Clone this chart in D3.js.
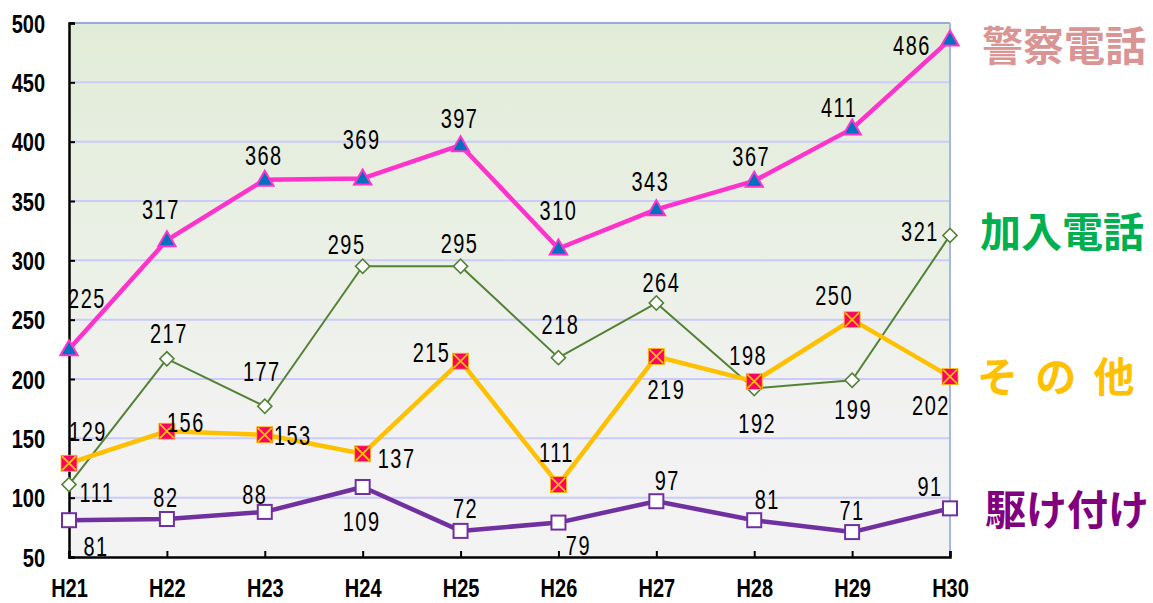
<!DOCTYPE html>
<html>
<head>
<meta charset="utf-8">
<script src="https://cdn.jsdelivr.net/npm/d3@7"></script>
<style>
  body { margin: 0; background: #fff; }
  .num { font-family: "Liberation Sans", Arial, sans-serif; }
  .legend { font-family: "Noto Sans CJK JP", sans-serif; font-weight: bold; }
</style>
</head>
<body>
<div id="chart"></div>
<script>
// chart values
var years = ["H21", "H22", "H23", "H24", "H25", "H26", "H27", "H28", "H29", "H30"];
var keisatsu = [225, 317, 368, 369, 397, 310, 343, 367, 411, 486];
var kanyu = [111, 217, 177, 295, 295, 218, 264, 192, 199, 321];
var sonota = [129, 156, 153, 137, 215, 111, 219, 198, 250, 202];
var kaketsuke = [81, 82, 88, 109, 72, 79, 97, 81, 71, 91];
var seriesNames = ["警察電話", "加入電話", "そ の 他", "駆け付け"];
var yTicks = [50, 100, 150, 200, 250, 300, 350, 400, 450, 500];

var svgWidth = 1153;
var svgHeight = 603;
var margin = { top: 23, right: 203, bottom: 46, left: 69 };
var width = svgWidth - margin.left - margin.right;
var height = svgHeight - margin.top - margin.bottom;

// no narrow font installed, so squeeze digits horizontally
var squeeze = 0.8;

var svg = d3.select("#chart")
  .append("svg")
  .attr("width", svgWidth)
  .attr("height", svgHeight);

// background gradient
var grad = svg.append("defs").append("linearGradient")
  .attr("id", "bg")
  .attr("x1", 0).attr("y1", 0).attr("x2", 0).attr("y2", 1);
grad.append("stop").attr("offset", "0%").attr("stop-color", "#e1ecd8");
grad.append("stop").attr("offset", "45%").attr("stop-color", "#ebf0e6");
grad.append("stop").attr("offset", "75%").attr("stop-color", "#f2f2f2");
grad.append("stop").attr("offset", "100%").attr("stop-color", "#f3f3f3");

var chartGroup = svg.append("g")
  .attr("transform", `translate(${margin.left}, ${margin.top})`);

var xScale = d3.scalePoint()
  .domain(years)
  .range([0, width]);

var yScale = d3.scaleLinear()
  .domain([50, 500])
  .range([height, 0]);

chartGroup.append("rect")
  .attr("width", width)
  .attr("height", height)
  .attr("fill", "url(#bg)");

// gridlines
chartGroup.selectAll(".grid")
  .data(yTicks.filter(d => d > 50))
  .enter()
  .append("line")
  .attr("x1", 0)
  .attr("x2", width)
  .attr("y1", d => yScale(d))
  .attr("y2", d => yScale(d))
  .attr("stroke", d => d === 500 ? "#98a9e2" : "#cbcbfb")
  .attr("stroke-width", 2);

// right border
chartGroup.append("line")
  .attr("x1", width).attr("x2", width)
  .attr("y1", 0).attr("y2", height)
  .attr("stroke", "#a3b6e6")
  .attr("stroke-width", 2);

// axes
var leftAxis = d3.axisLeft(yScale).tickValues(yTicks).tickSize(-6).tickPadding(30);
var bottomAxis = d3.axisBottom(xScale).tickSize(-6).tickPadding(28);

var yAxisG = chartGroup.append("g").call(leftAxis);
var xAxisG = chartGroup.append("g")
  .attr("transform", `translate(0, ${height})`)
  .call(bottomAxis);

[yAxisG, xAxisG].forEach(function(g) {
  g.select(".domain").attr("stroke", "#000").attr("stroke-width", 2.5);
  g.selectAll(".tick line").attr("stroke", "#000").attr("stroke-width", 2);
  g.selectAll("text")
    .attr("class", "num")
    .attr("fill", "#000")
    .attr("transform", `scale(${squeeze},1)`)
    .style("font-size", "25px")
    .style("font-weight", "bold");
});
yAxisG.selectAll(".tick text").attr("dy", "0.36em");
xAxisG.selectAll(".tick text").attr("dy", "0.5em");

// series drawing
var series = [
  { values: keisatsu, color: "#ff33cc", width: 4.5, marker: "triangle",
    labelOffsets: [[18, -51], [-6, -31], [-1, -24], [-1, -39], [-1, -27], [0, -38], [-6, -28], [-3, -25], [-13, -21], [-38, 6]] },
  { values: kanyu, color: "#548235", width: 2, marker: "diamond",
    labelOffsets: [[28, 8], [2, -26], [-3, -35], [-16, -22], [-1, -23], [2, -33], [5, -21], [3, 35], [1, 29], [-30, -4]] },
  { values: sonota, color: "#ffc000", width: 4.5, marker: "xsquare",
    labelOffsets: [[19, -32], [19, -9], [28, 0], [34, 5], [-29, -9], [-2, -32], [10, 33], [-6, -26], [-18, -24], [-19, 29]] },
  { values: kaketsuke, color: "#7030a0", width: 4.5, marker: "square",
    labelOffsets: [[27, 26], [-1, -22], [-10, -18], [-1, 34], [5, -23], [20, 23], [11, -21], [13, -21], [0, -22], [-20, -22]] }
];

var line = d3.line()
  .x((d, i) => xScale(years[i]))
  .y(d => yScale(d));

// lines and markers, back-to-front
[1, 2, 3, 0].forEach(function(si) {
  var s = series[si];
  chartGroup.append("path")
    .datum(s.values)
    .attr("d", line)
    .attr("fill", "none")
    .attr("stroke", s.color)
    .attr("stroke-width", s.width)
    .attr("stroke-linejoin", "round");

  var marks = chartGroup.append("g")
    .selectAll("g")
    .data(s.values)
    .enter()
    .append("g")
    .attr("transform", (d, i) => `translate(${xScale(years[i])}, ${yScale(d)})`);

  if (s.marker === "triangle") {
    marks.append("path")
      .attr("d", d3.symbol(d3.symbolTriangle, 130))
      .attr("transform", "translate(0,1)")
      .attr("fill", "#0070c0")
      .attr("stroke", "#ff33cc")
      .attr("stroke-width", 2);
  } else if (s.marker === "diamond") {
    marks.append("rect")
      .attr("x", -5).attr("y", -5)
      .attr("width", 10).attr("height", 10)
      .attr("transform", "rotate(45)")
      .attr("fill", "#fff")
      .attr("stroke", "#548235")
      .attr("stroke-width", 1.6);
  } else if (s.marker === "xsquare") {
    marks.append("rect")
      .attr("x", -8).attr("y", -8)
      .attr("width", 16).attr("height", 16)
      .attr("fill", "#ff0066")
      .attr("stroke", "#ffc000")
      .attr("stroke-width", 0.8);
    marks.append("path")
      .attr("d", "M-7,-7L7,7M7,-7L-7,7")
      .attr("stroke", "#ffc000")
      .attr("stroke-width", 1.8);
  } else {
    marks.append("rect")
      .attr("x", -7).attr("y", -7)
      .attr("width", 14).attr("height", 14)
      .attr("fill", "#fff")
      .attr("stroke", "#7030a0")
      .attr("stroke-width", 2);
  }
});

// data labels
series.forEach(function(s) {
  chartGroup.append("g")
    .selectAll("text")
    .data(s.values)
    .enter()
    .append("text")
    .attr("class", "num")
    .attr("transform", (d, i) => `translate(${xScale(years[i]) + s.labelOffsets[i][0]}, ${yScale(d) + s.labelOffsets[i][1]}) scale(0.74,1)`)
    .attr("dy", "0.36em")
    .attr("text-anchor", "middle")
    .style("font-size", "27px")
    .style("letter-spacing", "2px")
    .attr("fill", "#000")
    .text(d => d);
});

// series names on the right
var legendColors = ["#d99594", "#00b050", "#ffc000", "#800080"];
var legendX = [982, 980, 977, 985];
var legendY = [46, 232, 377, 510];
svg.selectAll(".legend")
  .data(seriesNames)
  .enter()
  .append("text")
  .attr("class", "legend")
  .attr("x", (d, i) => legendX[i])
  .attr("y", (d, i) => legendY[i])
  .attr("dy", "0.36em")
  .style("font-size", "41px")
  .style("letter-spacing", (d, i) => i === 2 ? "4px" : "0px")
  .attr("fill", (d, i) => legendColors[i])
  .text(d => d);
</script>
</body>
</html>
